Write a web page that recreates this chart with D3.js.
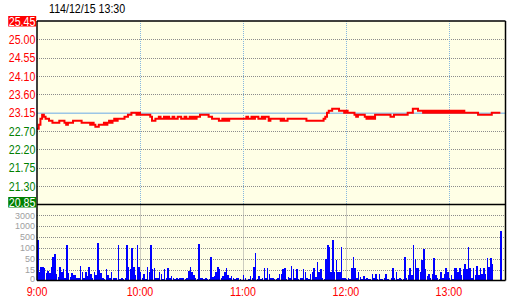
<!DOCTYPE html>
<html>
<head>
<meta charset="utf-8">
<script src="https://cdn.jsdelivr.net/npm/d3@7"></script>
<style>
body { margin: 0; background: #fff; }
svg text { font-family: "Liberation Sans", Arial, sans-serif; }
</style>
</head>
<body>
<div class="svgContainer"></div>
<script>
// Statics
var TITLE = "114/12/15 13:30";
var REF_PRICE = 23.15;
var PRICE_TICKS = [25.45, 24.99, 24.53, 24.07, 23.61, 23.15, 22.69, 22.23, 21.77, 21.31, 20.85];
var PRICE_LABELS = ["25.45", "25.00", "24.55", "24.10", "23.60", "23.15", "22.70", "22.20", "21.75", "21.30", "20.85"];
var VOL_TICKS = [0, 15, 50, 100, 500, 1000, 3000];
var VOL_TOP = 5000;
var TIME_TICKS = [0, 60, 120, 180, 240];   // minutes after 9:00
var TIME_LABELS = ["9:00", "10:00", "11:00", "12:00", "13:00"];
var LAST_MINUTE = 273;

// one value per minute, 9:00 .. 13:30
var PRICES = [
    22.75, 22.85, 23.00, 23.10, 23.05, 23.00, 23.00, 22.95, 22.95, 22.90,
    22.90, 22.90, 22.90, 22.95, 22.95, 22.95, 22.90, 22.85, 22.90, 22.90,
    22.90, 22.95, 22.95, 22.95, 22.95, 22.95, 22.90, 22.90, 22.90, 22.90,
    22.90, 22.85, 22.90, 22.85, 22.80, 22.80, 22.85, 22.85, 22.85, 22.90,
    22.85, 22.90, 22.95, 22.90, 22.95, 23.00, 22.95, 23.00, 23.00, 23.00,
    23.00, 23.05, 23.05, 23.10, 23.10, 23.15, 23.15, 23.15, 23.10, 23.15,
    23.10, 23.10, 23.10, 23.10, 23.10, 23.10, 23.05, 22.95, 22.95, 23.00,
    23.00, 23.05, 23.00, 23.00, 23.05, 23.00, 23.05, 23.00, 23.00, 23.05,
    23.00, 23.00, 23.05, 23.05, 23.00, 23.00, 23.05, 23.00, 23.00, 23.05,
    23.00, 23.05, 23.00, 23.05, 23.05, 23.10, 23.10, 23.10, 23.10, 23.10,
    23.05, 23.05, 23.00, 23.00, 23.00, 23.00, 22.95, 22.95, 23.00, 22.95,
    23.00, 22.95, 23.00, 23.00, 23.00, 23.00, 23.00, 23.00, 23.00, 23.00,
    23.00, 23.00, 23.05, 23.00, 23.00, 23.05, 23.00, 23.05, 23.05, 23.00,
    23.00, 23.05, 23.00, 23.05, 23.05, 22.95, 23.00, 23.00, 23.00, 23.00,
    23.00, 23.00, 22.95, 23.00, 22.95, 22.95, 23.00, 23.00, 23.00, 23.00,
    23.00, 23.00, 23.00, 23.00, 23.00, 23.00, 23.00, 22.95, 22.95, 22.95,
    22.95, 22.95, 22.95, 22.95, 22.95, 22.95, 22.95, 23.00, 23.05, 23.15,
    23.20, 23.20, 23.25, 23.25, 23.25, 23.25, 23.20, 23.20, 23.20, 23.15,
    23.20, 23.15, 23.15, 23.15, 23.15, 23.10, 23.05, 23.10, 23.10, 23.10,
    23.10, 23.05, 23.00, 23.05, 23.00, 23.05, 23.00, 23.10, 23.10, 23.10,
    23.10, 23.10, 23.10, 23.10, 23.10, 23.10, 23.05, 23.05, 23.10, 23.10,
    23.10, 23.10, 23.10, 23.10, 23.10, 23.10, 23.15, 23.15, 23.15, 23.25,
    23.25, 23.25, 23.20, 23.20, 23.20, 23.15, 23.20, 23.15, 23.20, 23.15,
    23.20, 23.15, 23.20, 23.15, 23.20, 23.15, 23.20, 23.15, 23.20, 23.15,
    23.20, 23.15, 23.20, 23.15, 23.20, 23.15, 23.20, 23.15, 23.20, 23.15,
    23.15, 23.15, 23.15, 23.15, 23.15, 23.15, 23.15, 23.10, 23.10, 23.10,
    23.10, 23.10, 23.10, 23.10, 23.10, 23.15, 23.15, 23.15, 23.15, 23.15,
    23.15
];

var VOLUMES = [
    400, 12, 25, 25, 20, 10, 13, 10, 25, 60,
    70, 9, 5, 25, 12, 18, 3, 200, 10, 5,
    10, 7, 8, 4, 3, 28, 12, 3, 12, 6,
    25, 9, 4, 12, 7, 280, 15, 10, 4, 2,
    18, 7, 3, 12, 3, 4, 4, 200, 2, 4,
    2, 3, 220, 25, 16, 100, 25, 7, 200, 25,
    12, 4, 9, 2, 25, 12,
    200, 18, 21, 4, 3, 12, 9, 2, 16, 4,
    20, 3, 6, 3, 2, 4, 2, 4, 4, 3,
    2, 4, 13, 22, 12, 8, 3, 2, 250, 3,
    3, 2, 3, 2, 2, 60, 5, 6, 12, 25,
    16, 3, 6, 12, 19, 8, 4, 6, 4, 2,
    3, 4, 2, 1, 7, 3, 1, 2, 6, 4,
    25, 75, 2, 6, 2, 3, 20, 4, 20, 9,
    3, 4, 2, 2, 4, 9,
    9, 16, 21, 2, 5, 4, 27, 16, 4, 18,
    2, 4, 3, 16, 12, 3, 2, 9, 12, 21,
    5, 40, 12, 16, 4, 2, 50, 200, 120, 12,
    400, 12, 45, 12, 12, 120, 4, 3, 2, 4,
    2, 21, 60, 21, 4, 12, 5, 2, 6, 2,
    3, 2, 2, 9, 4, 9, 2, 9, 2, 2,
    3, 9, 2, 1, 3, 21, 4, 12, 2, 4,
    2, 2, 60, 3, 7, 21, 7, 200, 50, 21,
    21, 12, 45, 95, 16, 6, 9, 4, 9, 55,
    7, 3, 2, 12, 4, 9, 19, 12, 3, 7,
    2, 21, 19, 12, 21, 7, 18, 33, 18, 150,
    21, 3, 21, 7, 27, 7, 21, 9, 21, 9,
    55, 25, 55, 33,
    0, 0, 0, 0, 800
];
// End statics

var width = 520, height = 300;
var plot = {left: 37, right: 505.5, top: 21, mid: 204.5, bottom: 280.5};

var UP = "#ff0000", DOWN = "#008000";
var NARROW = 0.82; // squeeze the sans font to look like the narrow terminal font

var svg = d3.select(".svgContainer").append("svg")
    .attr("width", width)
    .attr("height", height);

// Scales
var x = d3.scaleLinear()
    .domain([0, LAST_MINUTE])
    .range([plot.left, plot.right]);

var y = d3.scaleLinear()
    .domain([PRICE_TICKS[PRICE_TICKS.length - 1], PRICE_TICKS[0]])
    .range([plot.mid, plot.top]);

// volume axis has evenly spaced levels that are not linear
var volDomain = VOL_TICKS.concat([VOL_TOP]);
var volStep = (plot.bottom - plot.mid) / VOL_TICKS.length;
var yv = d3.scaleLinear()
    .domain(volDomain)
    .range(volDomain.map(function(d, i) { return plot.bottom - i * volStep; }))
    .clamp(true);

function crisp(v) { return Math.round(v) + 0.5; }

// Background
svg.append("rect")
    .attr("x", plot.left)
    .attr("y", plot.top)
    .attr("width", plot.right - plot.left)
    .attr("height", plot.bottom - plot.top)
    .attr("fill", "#ffffe6");

// Price gridlines
svg.append("g").selectAll("line")
    .data(PRICE_TICKS.filter(function(d, i) { return i > 0 && i < PRICE_TICKS.length - 1 && d != REF_PRICE; }))
    .enter().append("line")
    .attr("x1", plot.left)
    .attr("x2", plot.right)
    .attr("y1", function(d) { return crisp(y(d)); })
    .attr("y2", function(d) { return crisp(y(d)); })
    .attr("stroke", "#8c8c8c")
    .attr("stroke-dasharray", "1,1");

// Volume gridlines
svg.append("g").selectAll("line")
    .data(VOL_TICKS.slice(1))
    .enter().append("line")
    .attr("x1", plot.left)
    .attr("x2", plot.right)
    .attr("y1", function(d) { return crisp(yv(d)); })
    .attr("y2", function(d) { return crisp(yv(d)); })
    .attr("stroke", "#8c8c8c")
    .attr("stroke-dasharray", "1,1");

// Hour lines: blue in price panel, grey in volume panel
var hours = TIME_TICKS.slice(1);
svg.append("g").selectAll("line")
    .data(hours)
    .enter().append("line")
    .attr("x1", function(d) { return crisp(x(d)); })
    .attr("x2", function(d) { return crisp(x(d)); })
    .attr("y1", plot.top)
    .attr("y2", plot.mid)
    .attr("stroke", "#86b8e0")
    .attr("stroke-dasharray", "1,1");
svg.append("g").selectAll("line")
    .data(hours)
    .enter().append("line")
    .attr("x1", function(d) { return crisp(x(d)); })
    .attr("x2", function(d) { return crisp(x(d)); })
    .attr("y1", plot.mid)
    .attr("y2", plot.bottom)
    .attr("stroke", "#9a9a9a")
    .attr("stroke-dasharray", "1,1");

// Reference (yesterday close) line
svg.append("line")
    .attr("x1", plot.left)
    .attr("x2", plot.right)
    .attr("y1", y(REF_PRICE) + 0.5)
    .attr("y2", y(REF_PRICE) + 0.5)
    .attr("stroke", "#9cc6e6")
    .attr("stroke-width", 1.5);

// Volume bars
svg.append("g").selectAll("rect")
    .data(VOLUMES)
    .enter().append("rect")
    .attr("x", function(d, i) { return x(i); })
    .attr("y", function(d) { return yv(d); })
    .attr("width", 1.5)
    .attr("height", function(d) { return plot.bottom - yv(d); })
    .attr("fill", "#0000ff")
    .attr("shape-rendering", "crispEdges");

// Price line
var line = d3.line()
    .x(function(d, i) { return x(i); })
    .y(function(d) { return y(d); })
    .curve(d3.curveStepAfter);

svg.append("path")
    .datum(PRICES)
    .attr("d", line)
    .attr("fill", "none")
    .attr("stroke", "#ff0000")
    .attr("stroke-width", 2);

// Frame
var frame = svg.append("g")
    .attr("stroke", "#000")
    .attr("stroke-width", 1.5);
frame.append("line").attr("x1", plot.left).attr("x2", plot.right).attr("y1", plot.top).attr("y2", plot.top);
frame.append("line").attr("x1", plot.left).attr("x2", plot.right).attr("y1", plot.mid).attr("y2", plot.mid);
frame.append("line").attr("x1", plot.left).attr("x2", plot.right).attr("y1", plot.bottom).attr("y2", plot.bottom);
frame.append("line").attr("x1", plot.left).attr("x2", plot.left).attr("y1", plot.top).attr("y2", plot.bottom);
frame.append("line").attr("x1", plot.right).attr("x2", plot.right).attr("y1", plot.top).attr("y2", plot.bottom);

// Price axis labels
var priceAxis = svg.append("g")
    .attr("transform", "translate(" + plot.left + ",0)")
    .call(d3.axisLeft(y)
        .tickValues(PRICE_TICKS)
        .tickFormat(function(d, i) { return PRICE_LABELS[i]; })
        .tickSize(0)
        .tickPadding(2));
priceAxis.select(".domain").remove();
priceAxis.attr("font-family", null);
priceAxis.selectAll("text")
    .attr("font-size", 13)
    .attr("transform", "scale(" + NARROW + ",1)")
    .attr("fill", function(d) { return d >= REF_PRICE ? UP : DOWN; });

// highlight the limit-up and limit-down labels
priceAxis.selectAll(".tick").each(function(d, i) {
    var last = PRICE_TICKS.length - 1;
    if (i != 0 && i != last) return;
    var tick = d3.select(this);
    // the limit-down box sits just above the panel divider
    if (i == last) tick.attr("transform", "translate(0," + (y(d) - 2) + ")");
    var t = tick.select("text");
    var bb = t.node().getBBox();
    tick.insert("rect", "text")
        .attr("x", bb.x * NARROW - 0.5)
        .attr("y", -5.5)
        .attr("width", bb.width * NARROW + 1)
        .attr("height", 10.5)
        .attr("fill", i == 0 ? UP : DOWN);
    t.attr("fill", "#fff");
});

// Volume axis labels
var volAxis = svg.append("g")
    .attr("transform", "translate(" + plot.left + ",0)")
    .call(d3.axisLeft(yv)
        .tickValues(VOL_TICKS)
        .tickFormat(d3.format("d"))
        .tickSize(0)
        .tickPadding(2));
volAxis.select(".domain").remove();
volAxis.attr("font-family", null);
volAxis.selectAll("text")
    .attr("font-size", 9)
    .attr("dy", function(d) { return d == 0 ? "0.12em" : "0.3em"; })
    .attr("fill", "#a0a0a0");

// Time labels
svg.append("g").selectAll("text")
    .data(TIME_TICKS)
    .enter().append("text")
    .attr("transform", function(d) { return "translate(" + x(d) + ",296) scale(" + NARROW + ",1)"; })
    .attr("text-anchor", "middle")
    .attr("font-size", 13)
    .attr("fill", "#ff0000")
    .text(function(d, i) { return TIME_LABELS[i]; });

// Title
svg.append("text")
    .attr("transform", "translate(49,12.5) scale(" + NARROW + ",1)")
    .attr("font-size", 13)
    .attr("fill", "#000")
    .text(TITLE);
</script>
</body>
</html>
